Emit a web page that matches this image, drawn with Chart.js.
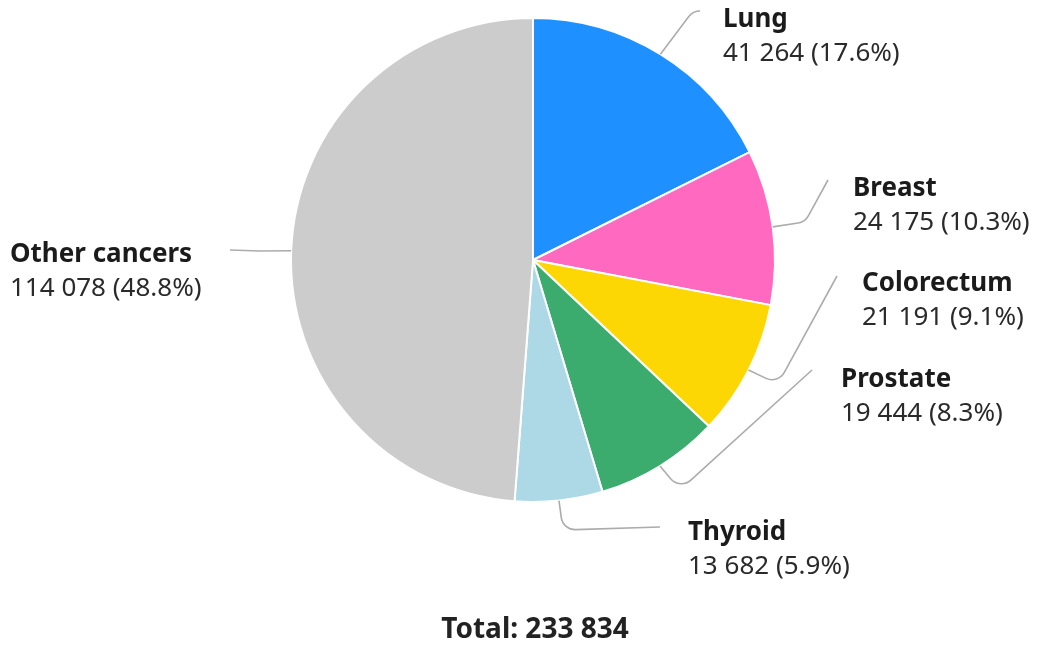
<!DOCTYPE html>
<html>
<head>
<meta charset="utf-8">
<script src="https://cdn.jsdelivr.net/npm/chart.js@4.4.1/dist/chart.umd.min.js"></script>
<style>
  html, body { margin: 0; padding: 0; background: #fff; }
  #wrap { width: 1042px; height: 650px; position: relative; }
</style>
</head>
<body>
<div id="wrap"><canvas id="myChart" width="1042" height="650"></canvas></div>
<script>
// data
var sites = ["Lung", "Breast", "Colorectum", "Prostate", "Thyroid", "Other cancers"];
var cases = [41264, 24175, 21191, 19444, 13682, 114078];
var colors = ["#1e90ff", "#ff69c0", "#fcd703", "#3cac6e", "#add8e6", "#cccccc"];

// where the labels and leader line bends sit, as offsets from the pie centre
var labelLayout = [
  { tx: 190, ty: -240, corner: [160, -249], end: [167, -249] },
  { tx: 320, ty: -71, corner: [272, -38], end: [295, -80] },
  { tx: 329, ty: 24, corner: [245, 124], end: [304, 16] },
  { tx: 308, ty: 120, corner: [147, 230], end: [279, 110] },
  { tx: 155, ty: 273, corner: [30, 270], end: [127, 267] },
  { tx: -523, ty: -5, corner: [-273, -9], end: [-303, -10] }
];

var total = cases.reduce(function (a, b) { return a + b; }, 0);

function fmt(n) {
  return String(n).replace(/\B(?=(\d{3})+(?!\d))/g, " ");
}

var labelPlugin = {
  id: "pieLabels",
  afterDraw: function (chart) {
    var ctx = chart.ctx;
    var arcs = chart.getDatasetMeta(0).data;
    ctx.save();
    for (var i = 0; i < arcs.length; i++) {
      var a = arcs[i];
      var mid = (a.startAngle + a.endAngle) / 2;
      var cx = a.x, cy = a.y;
      var sx = cx + Math.cos(mid) * a.outerRadius;
      var sy = cy + Math.sin(mid) * a.outerRadius;
      var L = labelLayout[i];
      ctx.beginPath();
      ctx.strokeStyle = "#acacac";
      ctx.lineWidth = 1.6;
      ctx.moveTo(sx, sy);
      ctx.arcTo(cx + L.corner[0], cy + L.corner[1], cx + L.end[0], cy + L.end[1], 14);
      ctx.lineTo(cx + L.end[0], cy + L.end[1]);
      ctx.stroke();

      ctx.textAlign = "left";
      ctx.textBaseline = "middle";
      ctx.fillStyle = "#1b1b1b";
      ctx.font = "bold 26px 'Noto Sans'";
      ctx.fillText(sites[i], cx + L.tx, cy + L.ty);
      ctx.fillStyle = "#2a2a2a";
      ctx.font = "26px 'Noto Sans'";
      var pct = (cases[i] / total * 100).toFixed(1);
      ctx.fillText(fmt(cases[i]) + " (" + pct + "%)", cx + L.tx, cy + L.ty + 34);
    }
    ctx.textAlign = "center";
    ctx.fillStyle = "#222";
    ctx.font = "bold 28px 'Noto Sans'";
    ctx.fillText("Total: " + fmt(total), arcs[0].x + 2, 630);
    ctx.restore();
  }
};

new Chart(document.getElementById("myChart").getContext("2d"), {
  type: "pie",
  data: {
    labels: sites,
    datasets: [{
      data: cases,
      backgroundColor: colors,
      borderColor: "#ffffff",
      borderWidth: 2
    }]
  },
  options: {
    responsive: false,
    animation: false,
    layout: { padding: { top: 17, bottom: 147, left: 24, right: 0 } },
    plugins: {
      legend: { display: false },
      tooltip: { enabled: false }
    }
  },
  plugins: [labelPlugin]
});
</script>
</body>
</html>
